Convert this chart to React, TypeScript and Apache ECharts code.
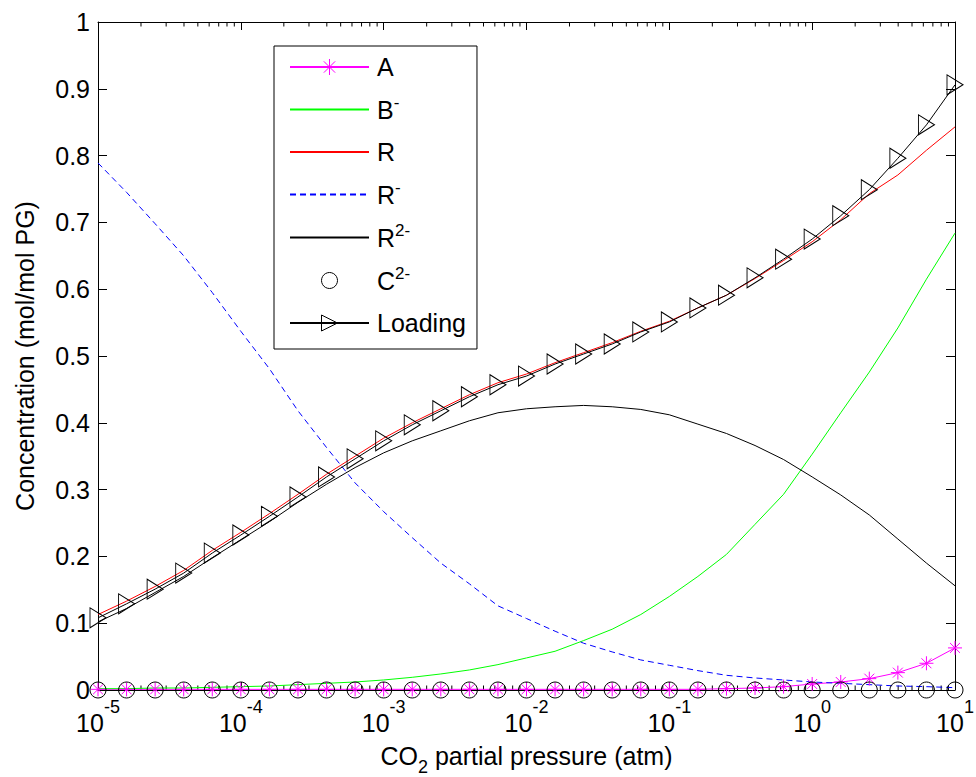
import React, { useEffect, useRef } from 'react';
import * as echarts from 'echarts';

// CO2 partial pressure (atm), 0.2-decade steps from 1e-5 to 1e1
const pressure = [
  1e-5, 1.585e-5, 2.512e-5, 3.981e-5, 6.31e-5,
  1e-4, 1.585e-4, 2.512e-4, 3.981e-4, 6.31e-4,
  1e-3, 1.585e-3, 2.512e-3, 3.981e-3, 6.31e-3,
  1e-2, 1.585e-2, 2.512e-2, 3.981e-2, 6.31e-2,
  1e-1, 1.585e-1, 2.512e-1, 3.981e-1, 6.31e-1,
  1, 1.585, 2.512, 3.981, 6.31, 10,
];

const seriesA = [
  0.001, 0.001, 0.001, 0.001, 0.001, 0.001, 0.001, 0.001, 0.001, 0.001,
  0.001, 0.001, 0.001, 0.001, 0.001, 0.001, 0.001, 0.001, 0.001, 0.001,
  0.001, 0.001, 0.002, 0.003, 0.005, 0.009, 0.012, 0.017, 0.026, 0.040, 0.063,
];
const seriesBminus = [
  0.002, 0.002, 0.003, 0.003, 0.004, 0.005, 0.006, 0.008, 0.010, 0.012,
  0.015, 0.019, 0.024, 0.030, 0.038, 0.048, 0.058, 0.074, 0.091, 0.113,
  0.140, 0.170, 0.203, 0.248, 0.293, 0.353, 0.415, 0.476, 0.542, 0.615, 0.684,
];
const seriesR = [
  0.113, 0.133, 0.155, 0.179, 0.209, 0.236, 0.264, 0.293, 0.323, 0.350,
  0.377, 0.400, 0.421, 0.442, 0.460, 0.473, 0.490, 0.505, 0.520, 0.537,
  0.552, 0.572, 0.591, 0.616, 0.643, 0.671, 0.704, 0.743, 0.771, 0.808, 0.843,
];
const seriesRminus = [
  0.789, 0.745, 0.698, 0.650, 0.595, 0.537, 0.481, 0.418, 0.363, 0.310,
  0.267, 0.228, 0.190, 0.159, 0.126, 0.107, 0.088, 0.070, 0.057, 0.045,
  0.037, 0.029, 0.022, 0.018, 0.015, 0.012, 0.010, 0.008, 0.006, 0.005, 0.0035,
];
const seriesR2minus = [
  0.102, 0.122, 0.146, 0.170, 0.198, 0.225, 0.252, 0.281, 0.308, 0.333,
  0.355, 0.373, 0.388, 0.403, 0.415, 0.421, 0.424, 0.426, 0.424, 0.420,
  0.412, 0.398, 0.384, 0.366, 0.345, 0.319, 0.292, 0.262, 0.226, 0.190, 0.156,
];
const seriesC2minus = [
  0, 0, 0, 0, 0, 0, 0, 0, 0, 0,
  0, 0, 0, 0, 0, 0, 0, 0, 0, 0,
  0, 0, 0, 0, 0, 0, 0, 0, 0, 0, 0,
];
const seriesLoading = [
  0.108, 0.129, 0.151, 0.175, 0.205, 0.232, 0.260, 0.289, 0.319, 0.346,
  0.373, 0.397, 0.418, 0.439, 0.457, 0.470, 0.488, 0.503, 0.518, 0.536,
  0.551, 0.572, 0.591, 0.617, 0.645, 0.675, 0.710, 0.749, 0.796, 0.846, 0.906,
];

const legendLabels: Record<string, string> = {
  'A': 'A',
  'B-': 'B{sup|-}',
  'R': 'R',
  'R-': 'R{sup|-}',
  'R2-': 'R{sup|2-}',
  'C2-': 'C{sup|2-}',
  'Loading': 'Loading',
};
const decades = [1e-5, 1e-4, 1e-3, 1e-2, 1e-1, 1];
const minorMultipliers = [2, 3, 4, 5, 6, 7, 8, 9];

const FONT = "'Liberation Sans', Arial, Helvetica, sans-serif";
const ASTERISK = 'path://M5,0L5,10M0,5L10,5M1.46,1.46L8.54,8.54M1.46,8.54L8.54,1.46';

export default function App() {
  const ref = useRef<HTMLDivElement>(null);

  useEffect(() => {
    if (!ref.current) return;
    const chart = echarts.init(ref.current, null, { renderer: 'svg' });
    const pair = (ys: number[]) => pressure.map((p, i) => [p, ys[i]]);
    const minorTicks: number[][] = [];
    decades.forEach((d) => minorMultipliers.forEach((m) => minorTicks.push([d * m, 0])));

    const axisLine = { show: true, onZero: false, lineStyle: { color: '#000', width: 1 } };

    const xBase = {
      type: 'log',
      logBase: 10,
      min: 1e-5,
      max: 10,
      axisLine,
      axisTick: { show: true, inside: true, length: 8, lineStyle: { color: '#000', width: 1 } },
      splitLine: { show: false },
      minorTick: { show: false },
    };
    const yBase = {
      type: 'value',
      min: 0,
      max: 1,
      interval: 0.1,
      axisLine,
      axisTick: { show: true, inside: true, length: 9, lineStyle: { color: '#000', width: 1 } },
      splitLine: { show: false },
    };

    const option: any = {
      animation: false,
      backgroundColor: '#fff',
      textStyle: { fontFamily: FONT, color: '#000' },
      grid: {
        left: 98, right: 21, top: 22, bottom: 87,
        show: false, containLabel: false, outerBoundsMode: 'none',
      },
      legend: {
        orient: 'vertical',
        left: 274,
        top: 46,
        padding: [6, 11, 11, 15],
        itemGap: 12,
        itemWidth: 79,
        itemHeight: 20,
        borderColor: '#000',
        borderWidth: 1,
        backgroundColor: '#fff',
        selectedMode: false,
        itemStyle: { borderWidth: 1 },
        textStyle: {
          fontFamily: FONT,
          fontSize: 25,
          lineHeight: 30,
          color: '#000',
          padding: [0, 0, 0, 3],
          rich: {
            sup: { fontFamily: FONT, fontSize: 17, lineHeight: 17, padding: [0, 0, 14, 0], color: '#000' },
          },
        },
        formatter: (name: string) => legendLabels[name] ?? name,
        data: [
          { name: 'A' },
          { name: 'B-', itemStyle: { opacity: 0 } },
          { name: 'R', itemStyle: { opacity: 0 } },
          { name: 'R-', itemStyle: { opacity: 0 } },
          { name: 'R2-', itemStyle: { opacity: 0 } },
          { name: 'C2-', lineStyle: { opacity: 0 } },
          { name: 'Loading' },
        ],
      },
      xAxis: [
        {
          ...xBase,
          position: 'bottom',
          axisLabel: {
            show: true,
            margin: 20,
            fontFamily: FONT,
            fontSize: 25,
            lineHeight: 25,
            color: '#000',
            formatter: (v: number) => '10{sup|' + Math.round(Math.log10(v)) + '}',
            rich: {
              sup: { fontFamily: FONT, fontSize: 18, lineHeight: 18, padding: [0, 0, 32, 0], color: '#000' },
            },
          },
          name: 'CO{sub|2} partial pressure (atm)',
          nameLocation: 'middle',
          nameGap: 53,
          nameMoveOverlap: false,
          nameTextStyle: {
            fontFamily: FONT,
            fontSize: 25,
            lineHeight: 25,
            color: '#000',
            rich: {
              sub: { fontFamily: FONT, fontSize: 18, lineHeight: 14, padding: [22, 0, 0, 0], color: '#000' },
            },
          },
        },
        { ...xBase, position: 'top', axisLabel: { show: false } },
      ],
      yAxis: [
        {
          ...yBase,
          position: 'left',
          axisLabel: {
            show: true,
            margin: 8,
            fontFamily: FONT,
            fontSize: 25,
            color: '#000',
            formatter: (v: number) => String(parseFloat(v.toFixed(1))),
          },
          name: 'Concentration (mol/mol PG)',
          nameLocation: 'middle',
          nameGap: 61,
          nameMoveOverlap: false,
          nameTextStyle: { fontFamily: FONT, fontSize: 25, color: '#000' },
        },
        { ...yBase, position: 'right', axisLabel: { show: false } },
      ],
      series: [
        {
          name: 'A',
          type: 'line',
          data: pair(seriesA),
          clip: false,
          symbol: ASTERISK,
          symbolSize: 14,
          lineStyle: { color: '#ff00ff', width: 1 },
          itemStyle: { color: 'none', borderColor: '#ff00ff', borderWidth: 1 },
        },
        {
          name: 'B-',
          type: 'line',
          data: pair(seriesBminus),
          symbol: 'none',
          lineStyle: { color: '#00ff00', width: 1 },
          itemStyle: { color: '#00ff00' },
        },
        {
          name: 'R',
          type: 'line',
          data: pair(seriesR),
          symbol: 'none',
          lineStyle: { color: '#ff0000', width: 1 },
          itemStyle: { color: '#ff0000' },
        },
        {
          name: 'R-',
          type: 'line',
          data: pair(seriesRminus),
          symbol: 'none',
          lineStyle: { color: '#0000ff', width: 1, type: [6, 4] },
          itemStyle: { color: '#0000ff' },
        },
        {
          name: 'R2-',
          type: 'line',
          data: pair(seriesR2minus),
          symbol: 'none',
          lineStyle: { color: '#000', width: 1 },
          itemStyle: { color: '#000' },
        },
        {
          name: 'C2-',
          type: 'line',
          data: pair(seriesC2minus),
          clip: false,
          symbol: 'circle',
          symbolSize: 16,
          lineStyle: { color: '#000', width: 0, opacity: 0 },
          itemStyle: { color: 'none', borderColor: '#000', borderWidth: 1 },
        },
        {
          name: 'Loading',
          type: 'line',
          data: pair(seriesLoading),
          clip: false,
          symbol: 'triangle',
          symbolRotate: -90,
          symbolSize: [20, 16],
          lineStyle: { color: '#000', width: 1 },
          itemStyle: { color: 'none', borderColor: '#000', borderWidth: 1 },
        },
        {
          name: 'minorTicks',
          type: 'custom',
          silent: true,
          clip: false,
          data: minorTicks,
          encode: { x: 0, y: 1 },
          renderItem: (_params: any, api: any) => {
            const v = api.value(0);
            const b = api.coord([v, 0]);
            const t = api.coord([v, 1]);
            return {
              type: 'group',
              children: [
                { type: 'line', shape: { x1: b[0], y1: b[1], x2: b[0], y2: b[1] - 4.5 }, style: { stroke: '#000', lineWidth: 1 } },
                { type: 'line', shape: { x1: t[0], y1: t[1], x2: t[0], y2: t[1] + 4.5 }, style: { stroke: '#000', lineWidth: 1 } },
              ],
            };
          },
        },
      ],
    };

    chart.setOption(option);
    return () => chart.dispose();
  }, []);

  return (
    <div
      ref={ref}
      style={{ position: 'fixed', left: 0, top: 0, width: 976, height: 777, background: '#fff' }}
    />
  );
}
